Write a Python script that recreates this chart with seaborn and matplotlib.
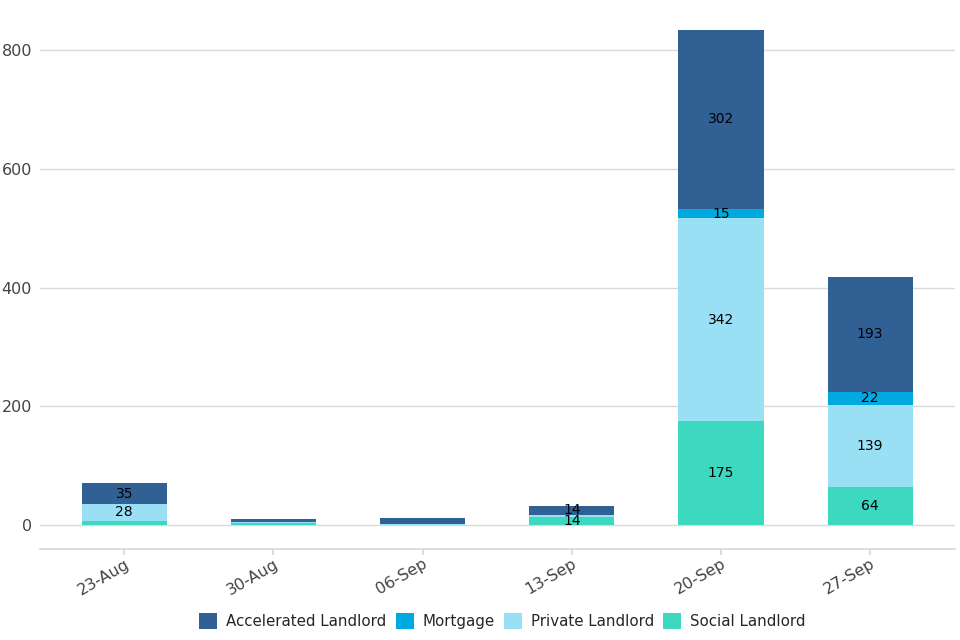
import numpy as np
import pandas as pd
import matplotlib.pyplot as plt
import seaborn as sns

weeks = ["23-Aug", "30-Aug", "06-Sep", "13-Sep", "20-Sep", "27-Sep"]
social = [8, 4, 0, 14, 175, 64]
private = [28, 2, 3, 4, 342, 139]
mortgage = [0, 0, 0, 0, 15, 22]
accelerated = [35, 5, 9, 14, 302, 193]

series = [
    ("Social Landlord", social, "#3cd9c0"),
    ("Private Landlord", private, "#9ae0f5"),
    ("Mortgage", mortgage, "#00a9e0"),
    ("Accelerated Landlord", accelerated, "#316094"),
]

sns.set_theme(style="white")
plt.rcParams["font.family"] = ["DejaVu Sans"]

fig = plt.figure(figsize=(9.6, 6.4), dpi=100)
ax = fig.add_axes([0.042, 0.142, 0.953, 0.858])

bottom = np.zeros(len(weeks))
for name, vals, col in series:
    vals = np.array(vals, dtype=float)
    sns.barplot(x=weeks, y=vals, bottom=bottom, color=col, width=0.57,
                saturation=1, linewidth=0, ax=ax, label=name, zorder=3)
    for i, v in enumerate(vals):
        if v >= 10:
            ax.text(i, bottom[i] + v / 2, f"{int(v)}", ha="center", va="center",
                    fontsize=10, color="black", zorder=4)
    bottom += vals

ax.set_xlim(-0.563, 5.57)
ax.set_ylim(-40, 884)
ax.set_yticks([0, 200, 400, 600, 800])
ax.yaxis.grid(True, color="#d9d9d9", linewidth=1, zorder=0)
for s in ["left", "right", "top"]:
    ax.spines[s].set_visible(False)
ax.spines["bottom"].set_color("#d9d9d9")
ax.tick_params(axis="y", length=0, labelsize=11.5, labelcolor="#444444", pad=6)
ax.tick_params(axis="x", length=4, color="#d9d9d9", labelsize=11.5,
               labelcolor="#444444", bottom=True, pad=1)
plt.setp(ax.get_xticklabels(), rotation=30, ha="right", va="top",
         rotation_mode="anchor")
ax.set_xlabel("")
ax.set_ylabel("")

h, l = ax.get_legend_handles_labels()
order = ["Accelerated Landlord", "Mortgage", "Private Landlord", "Social Landlord"]
hd = dict(zip(l, h))
ax.legend([hd[o] for o in order], order, loc="lower center",
          bbox_to_anchor=(0.505, -0.17), ncol=4, frameon=False, fontsize=10.8,
          handlelength=1.2, handleheight=1.2, columnspacing=0.6, handletextpad=0.6)

fig.savefig("out.png", dpi=100)
